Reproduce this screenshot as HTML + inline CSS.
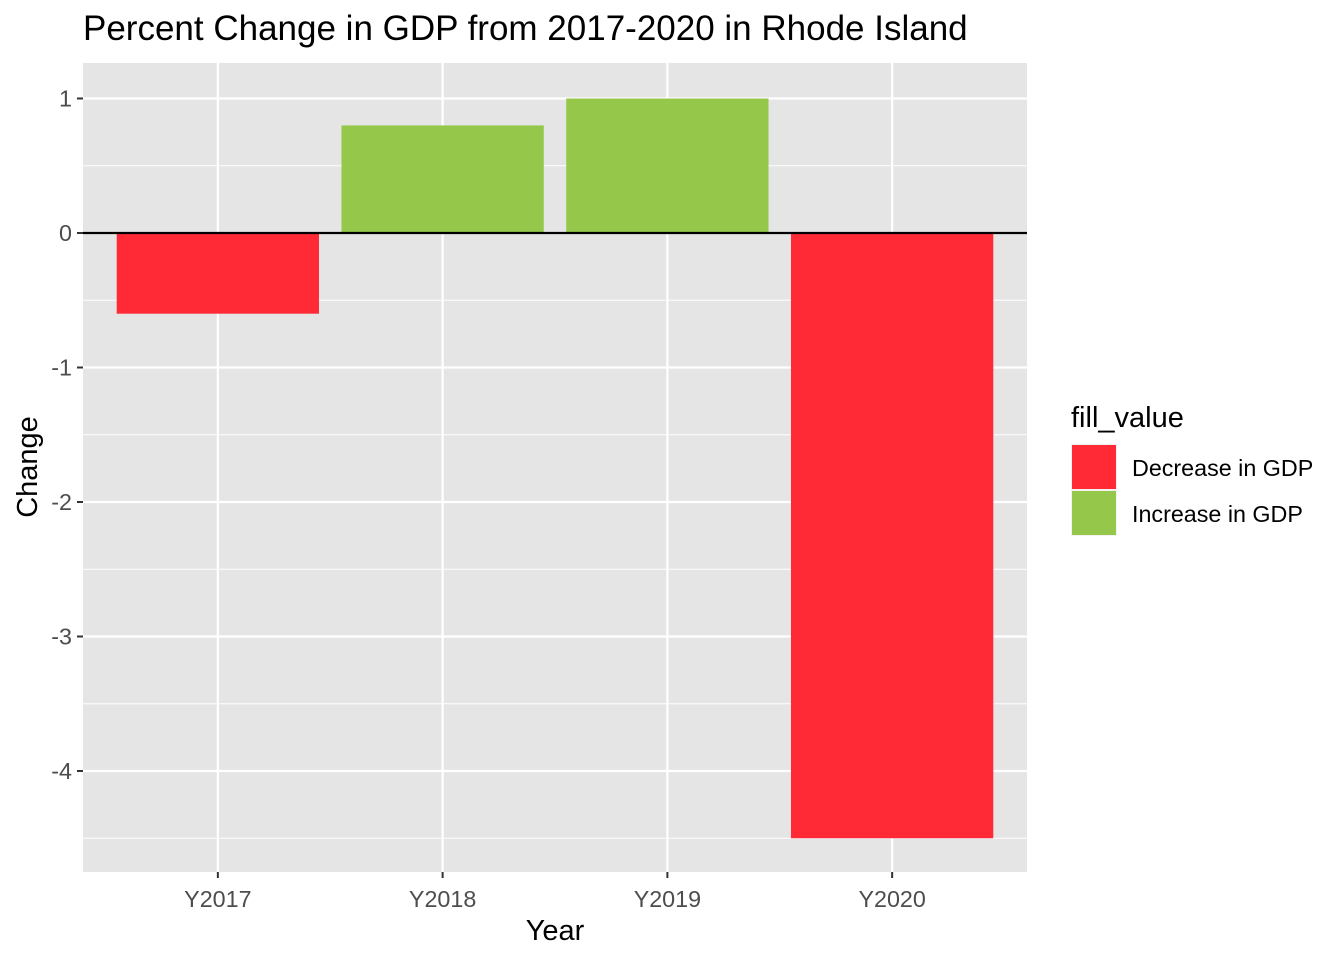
<!DOCTYPE html>
<html><head><meta charset="utf-8"><style>
body{margin:0;background:#fff;}
svg text{font-family:"Liberation Sans",Arial,sans-serif;}
</style></head><body>
<svg id="chart" width="1344" height="960" xmlns="http://www.w3.org/2000/svg">
<text x="83" y="40" font-size="35" fill="#000">Percent Change in GDP from 2017-2020 in Rhode Island</text>
<rect x="83" y="63" width="944" height="809" fill="#e5e5e5"/>
<g id="grid"></g>
<g id="bars"></g>
<g id="axes"></g>
<text x="555" y="940" font-size="29" text-anchor="middle">Year</text>
<text transform="translate(37,467) rotate(-90)" font-size="29" text-anchor="middle">Change</text>
<g>
<text x="1071" y="427" font-size="29">fill_value</text>
<rect x="1071" y="444" width="46" height="46" fill="#f2f2f2"/>
<rect x="1072" y="445" width="44" height="44" fill="#ff2a36"/>
<rect x="1071" y="490" width="46" height="46" fill="#f2f2f2"/>
<rect x="1072" y="491" width="44" height="44" fill="#95c74a"/>
<text x="1132" y="476" font-size="23.3">Decrease in GDP</text>
<text x="1132" y="522" font-size="23.3">Increase in GDP</text>
</g>
</svg>
<script>
const categories=["Y2017","Y2018","Y2019","Y2020"];
const values=[-0.6,0.8,1.0,-4.5];
const yTicks=[1,0,-1,-2,-3,-4];
const yMinorTicks=[0.5,-0.5,-1.5,-2.5,-3.5,-4.5];
const NS="http://www.w3.org/2000/svg";
const px0=83,px1=1027,py0=63,py1=872,yMin=-4.751,yMax=1.264;
const y=v=>py0+(yMax-v)/(yMax-yMin)*(py1-py0);
const step=(px1-px0)/(categories.length+0.2);
const x=i=>px0+step*(i+0.6);
const bw=step*0.9;
function mk(tag,attrs,parent){const e=document.createElementNS(NS,tag);for(const k in attrs)e.setAttribute(k,attrs[k]);document.getElementById(parent).appendChild(e);return e;}
yMinorTicks.forEach(v=>{const l=mk('line',{x1:px0,x2:px1,y1:y(v),y2:y(v),stroke:'#fff','stroke-width':1.1},'grid');

});
yTicks.forEach(v=>{const l=mk('line',{x1:px0,x2:px1,y1:y(v),y2:y(v),stroke:'#fff','stroke-width':2.2},'grid');


const t=mk('line',{x1:px0-6,x2:px0,y1:y(v),y2:y(v),stroke:'#333','stroke-width':2},'axes');


const tx=mk('text',{x:px0-11,y:y(v)+8,'font-size':23.3,'text-anchor':'end',fill:'#4d4d4d'},'axes');tx.textContent=v;

});
categories.forEach((c,i)=>{const l=mk('line',{x1:x(i),x2:x(i),y1:py0,y2:py1,stroke:'#fff','stroke-width':2.2},'grid');


const v=values[i];const r=mk('rect',{x:x(i)-bw/2,y:Math.min(y(v),y(0)),width:bw,height:Math.abs(y(v)-y(0)),fill:v<0?'#ff2a36':'#95c74a'},'bars');


const t=mk('line',{x1:x(i),x2:x(i),y1:py1,y2:py1+6,stroke:'#333','stroke-width':2},'axes');


const tx=mk('text',{x:x(i),y:py1+35,'font-size':23.3,'text-anchor':'middle',fill:'#4d4d4d'},'axes');tx.textContent=c;

});
const z=mk('line',{x1:px0,x2:px1,y1:y(0),y2:y(0),stroke:'#000','stroke-width':2.2},'bars');


</script>
</body></html>
